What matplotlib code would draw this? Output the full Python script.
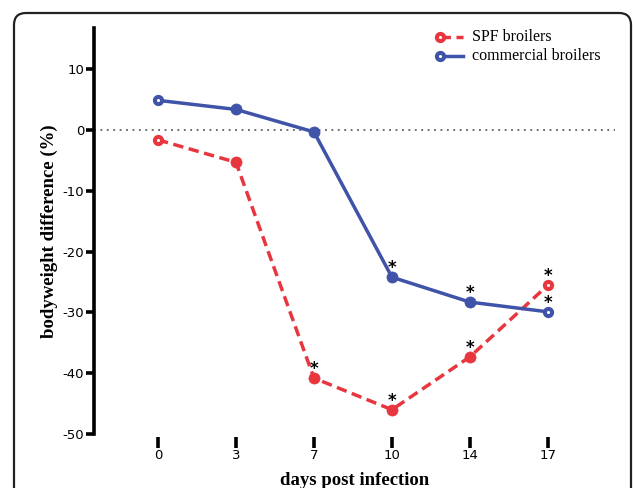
import matplotlib
matplotlib.use("Agg")
import matplotlib.pyplot as plt
from matplotlib.patches import FancyBboxPatch
from matplotlib.lines import Line2D
from matplotlib.transforms import IdentityTransform

plt.rcParams["axes.unicode_minus"] = False

days = ["0", "3", "7", "10", "14", "17"]
spf = [-1.6, -5.3, -40.8, -46.0, -37.3, -25.5]
commercial = [4.9, 3.4, -0.3, -24.2, -28.3, -29.9]
spf_sig = [False, False, True, True, True, True]
com_sig = [False, False, False, True, True, True]
hollow = [True, False, False, False, False, True]
legend_labels = ["SPF broilers", "commercial broilers"]

red = "#E8363F"
blue = "#3F53A8"

W, H = 633, 488
fig = plt.figure(figsize=(6.33, 4.88), dpi=100)
ax = fig.add_axes([94/W, 1-434/H, (615-94)/W, (434-28)/H])

x = list(range(len(days)))

# frame
frame = FancyBboxPatch((14, -30), 617, H-13+30, boxstyle="round,pad=0,rounding_size=12",
                       transform=IdentityTransform(), fill=False, lw=1.6, ec="#222222")
fig.patches.append(frame)

ax.axhline(0, color="#444444", ls=(0, (1.2, 3)), lw=1.1, zorder=1)

ax.plot(x, spf, color=red, ls=(0, (3, 1.6)), lw=2.5, zorder=3)
ax.plot(x, commercial, color=blue, ls="-", lw=2.5, zorder=3)
for xi, s, c, h in zip(x, spf, commercial, hollow):
    for val, col in ((s, red), (c, blue)):
        if h:
            ax.plot(xi, val, "o", ms=5.2, mfc="white", mec=col, mew=2.9, zorder=4)
        else:
            ax.plot(xi, val, "o", ms=8, mfc=col, mec=col, mew=0.5, zorder=4)

def star(xi, val):
    ax.annotate("*", (xi, val), xytext=(0, 2.8), textcoords="offset points",
                ha="center", va="baseline", fontsize=12, fontweight="bold", family="DejaVu Sans")

for xi, s, sig in zip(x, spf, spf_sig):
    if sig:
        star(xi, s)
for xi, c, sig in zip(x, commercial, com_sig):
    if sig:
        star(xi, c)

# manual legend (marker at left end of handle)
for (yy, col, ls, lab) in ((37, red, (0, (3, 1.6)), legend_labels[0]),
                           (56, blue, "-", legend_labels[1])):
    fy = 1 - yy / H
    fig.add_artist(Line2D([440/W, 463/W], [fy, fy], transform=fig.transFigure,
                          color=col, ls=ls, lw=2.5))
    fig.add_artist(Line2D([440/W], [fy], transform=fig.transFigure, marker="o",
                          ms=5.2, mfc="white", mec=col, mew=2.9, ls="none"))
    fig.text(472/W, fy, lab, family="Liberation Serif", fontsize=11.5, va="center", ha="left")

ax.set_xlim(-0.82, 5.86)
ax.set_ylim(-50, 16.8)
ax.set_xticks(x)
ax.set_xticklabels(days)
ax.set_yticks([10, 0, -10, -20, -30, -40, -50])

for s in ["top", "right", "bottom"]:
    ax.spines[s].set_visible(False)
ax.spines["bottom"].set_position(("outward", 2))
ax.spines["left"].set_linewidth(2.6)
ax.tick_params(axis="y", length=6, width=2.6, labelsize=9.5, pad=1, colors="black")
ax.tick_params(axis="x", length=8, width=2.6, labelsize=9.5, pad=1)

ax.set_xlabel("days post infection", family="Liberation Serif", fontweight="bold", fontsize=13.5, labelpad=7)
ax.set_ylabel("bodyweight difference (%)", family="Liberation Serif", fontweight="bold", fontsize=13.5, labelpad=3)

fig.savefig("out.png", dpi=100)
